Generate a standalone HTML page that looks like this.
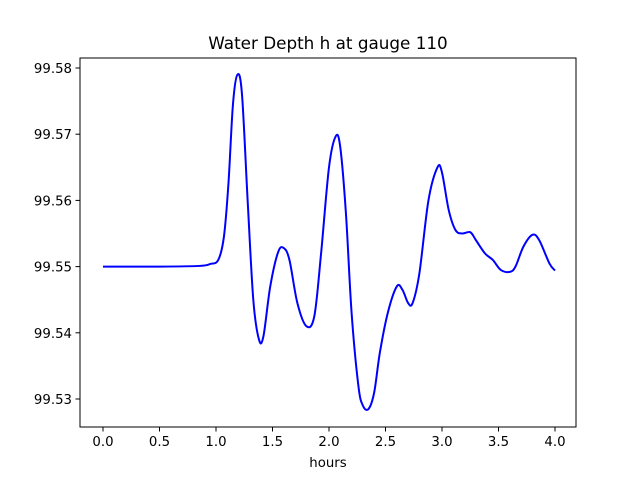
<!DOCTYPE html>
<html><head><meta charset="utf-8"><style>
body{margin:0;background:#fff;}
svg{display:block;font-family:"DejaVu Sans","Liberation Sans",sans-serif;}
</style></head><body>
<svg id="s" width="640" height="480" xmlns="http://www.w3.org/2000/svg">
<rect width="640" height="480" fill="#fff"/>
<text x="328" y="49" font-size="16.8" text-anchor="middle">Water Depth h at gauge 110</text>
<g id="ticks" font-size="13.3"></g>
<path id="curve" fill="none" stroke="#0000ff" stroke-width="2"/>
<rect x="80" y="58" width="496" height="369" fill="none" stroke="#000" stroke-width="1"/>
<text x="328" y="467" font-size="13.3" text-anchor="middle">hours</text>
</svg>
<script>
const X=t=>103+113*t, Y=v=>68+(99.58-v)*6620;
let g=document.getElementById('ticks'),h='';
for(let i=0;i<=8;i++){let t=i*0.5,x=X(t);h+=`<line x1="${x}" y1="427" x2="${x}" y2="431.5" stroke="#000"/><text x="${x}" y="446" text-anchor="middle">${t.toFixed(1)}</text>`;}
for(let i=0;i<=5;i++){let v=99.53+i*0.01,y=Y(v);h+=`<line x1="75.5" y1="${y}" x2="80" y2="${y}" stroke="#000"/><text x="72" y="${y+5}" text-anchor="end">${v.toFixed(2)}</text>`;}
g.innerHTML=h;
const d=[[0,99.55],[0.5,99.55],[0.85,99.5501],[0.95,99.5504],[1.02,99.551],[1.07,99.5545],[1.11,99.5625],[1.15,99.5745],[1.19,99.579],[1.23,99.576],[1.28,99.560],[1.33,99.545],[1.38,99.539],[1.42,99.5395],[1.48,99.547],[1.55,99.5522],[1.6,99.5528],[1.65,99.551],[1.72,99.5445],[1.8,99.541],[1.87,99.5425],[1.93,99.552],[2.0,99.565],[2.06,99.5697],[2.1,99.568],[2.15,99.558],[2.2,99.543],[2.26,99.532],[2.3,99.529],[2.35,99.5285],[2.4,99.531],[2.45,99.537],[2.52,99.543],[2.6,99.547],[2.65,99.5465],[2.7,99.5445],[2.74,99.5445],[2.8,99.549],[2.88,99.560],[2.96,99.565],[3.0,99.5642],[3.06,99.5585],[3.12,99.5555],[3.18,99.555],[3.25,99.5552],[3.3,99.554],[3.38,99.552],[3.45,99.551],[3.52,99.5495],[3.6,99.5492],[3.65,99.550],[3.72,99.553],[3.8,99.5548],[3.86,99.554],[3.95,99.5505],[4.0,99.5494]];
const p=d.map(a=>[X(a[0]),Y(a[1])]);
let s=`M${p[0][0]},${p[0][1]}`;
for(let i=0;i<p.length-1;i++){const p0=p[i-1]||p[i],p1=p[i],p2=p[i+1],p3=p[i+2]||p2;
s+=` C${p1[0]+(p2[0]-p0[0])/6},${p1[1]+(p2[1]-p0[1])/6} ${p2[0]-(p3[0]-p1[0])/6},${p2[1]-(p3[1]-p1[1])/6} ${p2[0]},${p2[1]}`;}
document.getElementById('curve').setAttribute('d',s);
</script>
</body></html>
